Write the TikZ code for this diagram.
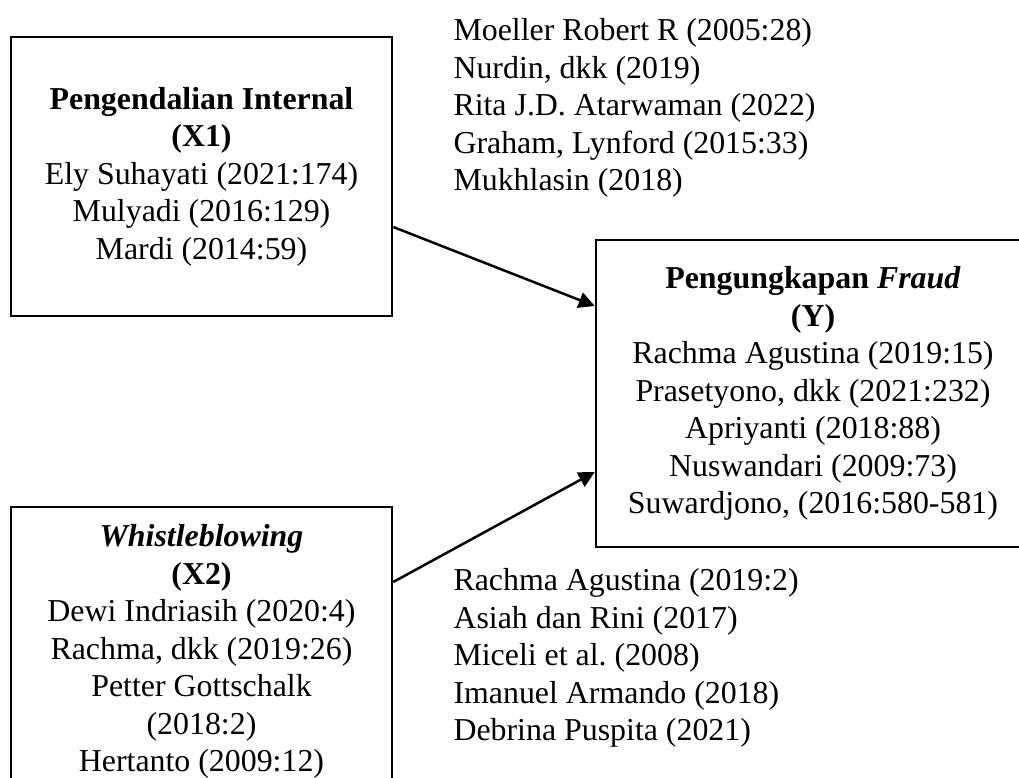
\documentclass[tikz,border=0pt]{standalone}
\usepackage{fontspec}
\setmainfont{Liberation Serif}
\usetikzlibrary{arrows.meta, positioning, calc}
\frenchspacing

\tikzset{
  varbox/.style={draw, line width=1pt, align=center, inner sep=0pt, font=\fontsize{12.75}{15}\selectfont},
  reflist/.style={align=left, inner sep=0pt, anchor=north west, font=\fontsize{12.75}{15}\selectfont},
  link/.style={-{Triangle[length=6.4pt, width=6.4pt]}, line width=1pt}
}

\begin{document}
\begin{tikzpicture}[x=0.4pt, y=-0.4pt]
\useasboundingbox (0,0) rectangle (1019,778);
\clip (0,0) rectangle (1019,778);

% variables
\node[varbox, minimum width=152.4pt, minimum height=111.6pt] (x1) at (201.5,176.5)
  {\textbf{Pengendalian Internal}\\\textbf{(X1)}\\Ely Suhayati (2021:174)\\Mulyadi (2016:129)\\Mardi (2014:59)};
\node[varbox, minimum width=152.4pt, minimum height=115.6pt] (x2) at (201.5,651.5)
  {\textbf{\textit{Whistleblowing}}\\\textbf{(X2)}\\Dewi Indriasih (2020:4)\\Rachma, dkk (2019:26)\\Petter Gottschalk\\(2018:2)\\Hertanto (2009:12)};
\node[varbox, minimum width=173.6pt, minimum height=122.8pt] (y) at (813,393.5)
  {\textbf{Pengungkapan \textit{Fraud}}\\\textbf{(Y)}\\Rachma Agustina (2019:15)\\Prasetyono, dkk (2021:232)\\Apriyanti (2018:88)\\Nuswandari (2009:73)\\Suwardjono, (2016:580-581)};

% sources
\node[reflist] (r1) at (453,18)
  {Moeller Robert R (2005:28)\\Nurdin, dkk (2019)\\Rita J.D. Atarwaman (2022)\\Graham, Lynford (2015:33)\\Mukhlasin (2018)};
\node[reflist] (r2) at (453,568)
  {Rachma Agustina (2019:2)\\Asiah dan Rini (2017)\\Miceli et al. (2008)\\Imanuel Armando (2018)\\Debrina Puspita (2021)};

\draw[link] ($(x1.east)+(0,50.5)$) -- ($(y.west)+(0,-87.5)$);
\draw[link] ($(x2.east)+(0,-69.5)$) -- ($(y.west)+(0,78.5)$);
\end{tikzpicture}
\end{document}
